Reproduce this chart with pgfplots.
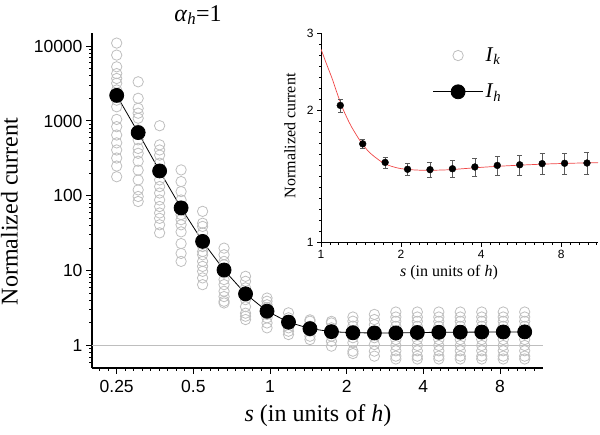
\documentclass[border=0pt]{standalone}
\usepackage{pgfplots}
\pgfplotsset{compat=1.18}
\usepackage{fontspec}
\setmainfont{Liberation Serif}
\newfontfamily\arial{Liberation Sans}
\definecolor{lgray}{RGB}{190,190,190}
\definecolor{ebar}{RGB}{90,90,90}
\definecolor{fitred}{RGB}{240,70,70}
\begin{document}
\begin{tikzpicture}
\useasboundingbox (0,0) rectangle (600pt,434pt);
\begin{axis}[
  at={(92pt,66pt)}, anchor=south west,
  scale only axis, width=451pt, height=335pt,
  xmode=log, ymode=log,
  xmin=0.2, xmax=11.8, ymin=0.5, ymax=15000,
  axis x line*=bottom, axis y line*=left,
  axis line style={-, line width=1.3pt},
  tick align=outside,
  major tick length=6pt, minor tick length=3pt,
  tick style={line width=1pt, black},
  xtick={0.25,0.5,1,2,4,8}, xticklabels={0.25,0.5,1,2,4,8},
  ytick={1,10,100,1000,10000}, yticklabels={1,10,100,1000,10000},
  minor xtick={0.2143,0.2315,0.2700,0.2916,0.3150,0.3402,0.3674,0.3969,0.4286,0.4629,0.5400,0.5833,0.6300,0.6804,0.7349,0.7937,0.8572,0.9259,1.0801,1.1665,1.2599,1.3608,1.4697,1.5874,1.7145,1.8517,2.1601,2.3330,2.5198,2.7216,2.9394,3.1748,3.4290,3.7035,4.3203,4.6661,5.0397,5.4432,5.8788,6.3496,6.8579,7.4070,8.6406,9.3322,10.0794,10.8863},
  minor ytick={0.6,0.7,0.8,0.9,2,3,4,5,6,7,8,9,20,30,40,50,60,70,80,90,200,300,400,500,600,700,800,900,2000,3000,4000,5000,6000,7000,8000,9000},
  ticklabel style={font=\arial\fontsize{17.5}{20}\selectfont},
  xticklabel style={yshift=-3pt},
  xlabel={\textit{s} (in units of \textit{h})},
  ylabel={Normalized current},
  label style={font=\fontsize{24}{28}\selectfont, inner sep=0pt},
  x label style={at={(axis description cs:0.501,-0.143)}, anchor=center},
  y label style={at={(axis description cs:-0.183,0.467)}, anchor=center},
  clip=false,
  legend style={at={(axis description cs:0.755,0.962)}, anchor=north west, draw=none, fill=none,
    font=\fontsize{21}{23}\selectfont, row sep=17pt, inner sep=0pt},
  legend cell align=left,
  legend image code/.code={\draw[#1, mark repeat=2, mark phase=2] plot coordinates {(0pt,0pt) (25pt,0pt) (50pt,0pt)};},
]
\addplot[lgray, forget plot, line width=0.8pt] coordinates {(0.2,1) (11.8,1)};
\addplot[only marks, mark=o, mark size=5.2pt, lgray, mark options={line width=0.8pt}]
table {
x y
0.25 11000
0.25 7600
0.25 5300
0.25 4300
0.25 3700
0.25 3200
0.25 2600
0.25 1900
0.25 1550
0.25 1050
0.25 840
0.25 650
0.25 510
0.25 410
0.25 320
0.25 250
0.25 180
0.3036 3340
0.3036 2010
0.3036 1480
0.3036 1270
0.3036 1090
0.3036 760
0.3036 560
0.3036 430
0.3036 370
0.3036 290
0.3036 220
0.3036 163
0.3036 120
0.3036 98
0.3036 84
0.3686 865
0.3686 480
0.3686 410
0.3686 350
0.3686 273
0.3686 211
0.3686 163
0.3686 133
0.3686 109
0.3686 88
0.3686 72
0.3686 59
0.3686 50
0.3686 41
0.3686 32
0.4476 222
0.4476 155
0.4476 114
0.4476 88
0.4476 65
0.4476 56
0.4476 48
0.4476 41
0.4476 33
0.4476 23
0.4476 17
0.4476 13.3
0.5436 62
0.5436 43
0.5436 39
0.5436 32
0.5436 21
0.5436 18
0.5436 16.3
0.5436 13.3
0.5436 11.4
0.5436 9.8
0.5436 8.0
0.5436 6.5
0.66 20
0.66 16.3
0.66 13.3
0.66 12
0.66 9.3
0.66 7.6
0.66 6.5
0.66 5.3
0.66 4.5
0.66 3.9
0.66 3.7
0.8015 8.4
0.8015 7.2
0.8015 5.9
0.8015 4.5
0.8015 4.1
0.8015 3.3
0.8015 2.7
0.8015 2.46
0.8015 2.22
0.9732 4.3
0.9732 3.9
0.9732 3.5
0.9732 3.2
0.9732 2.6
0.9732 2.34
0.9732 2.0
0.9732 1.72
1.1818 2.73
1.1818 2.34
1.1818 2.11
1.1818 1.9
1.1818 1.72
1.1818 1.55
1.1818 1.40
1.435 2.2
1.435 2.11
1.435 1.81
1.435 1.55
1.435 1.33
1.435 1.20
1.7425 2.1
1.7425 2.0
1.7425 1.72
1.7425 1.33
1.7425 1.14
1.7425 0.98
2.1159 2.4
2.1159 2.11
2.1159 1.81
2.1159 1.27
2.1159 1.09
2.1159 0.84
2.1159 0.78
2.569 2.6
2.569 2.22
2.569 1.9
2.569 1.27
2.569 1.03
2.569 0.84
2.569 0.72
3.120 2.8
3.120 2.4
3.120 2.1
3.120 1.8
3.120 1.2
3.120 1.0
3.120 0.85
3.120 0.72
3.120 0.66
3.789 2.8
3.789 2.4
3.789 2.1
3.789 1.8
3.789 1.2
3.789 1.0
3.789 0.85
3.789 0.72
3.789 0.66
4.601 2.8
4.601 2.4
4.601 2.1
4.601 1.8
4.601 1.2
4.601 1.0
4.601 0.85
4.601 0.72
4.601 0.66
5.586 2.8
5.586 2.4
5.586 2.1
5.586 1.8
5.586 1.2
5.586 1.0
5.586 0.85
5.586 0.72
5.586 0.66
6.783 2.8
6.783 2.4
6.783 2.1
6.783 1.8
6.783 1.2
6.783 1.0
6.783 0.85
6.783 0.72
6.783 0.66
8.237 2.8
8.237 2.4
8.237 2.1
8.237 1.8
8.237 1.2
8.237 1.0
8.237 0.85
8.237 0.72
8.237 0.66
10.0 2.8
10.0 2.4
10.0 2.1
10.0 1.8
10.0 1.2
10.0 1.0
10.0 0.85
10.0 0.72
10.0 0.66
};
\addlegendentry{\textit{I}\textsubscript{\textit{k}}}
\addplot[black, line width=0.8pt, mark=*, mark size=7pt, mark options={fill=black}]
coordinates {
(0.25,2200) (0.3036,700) (0.3686,215) (0.4476,69) (0.5436,24.6) (0.66,10.2)
(0.8015,4.9) (0.9732,2.87) (1.1818,2.05) (1.435,1.68) (1.7425,1.53) (2.1159,1.48)
(2.569,1.47) (3.120,1.47) (3.789,1.49) (4.601,1.50) (5.586,1.505) (6.783,1.51)
(8.237,1.515) (10.0,1.52)
};
\addlegendentry{\textit{I}\textsubscript{\textit{h}}}
\end{axis}

\begin{axis}[
  at={(321pt,191.3pt)}, anchor=south west,
  scale only axis, width=277pt, height=209.4pt,
  xmode=log, ymode=log,
  xmin=1, xmax=11, ymin=1, ymax=3,
  axis x line*=bottom, axis y line*=left,
  axis line style={-, line width=0.8pt},
  tick align=outside,
  major tick length=4pt, minor tick length=2pt,
  tick style={line width=0.7pt, black},
  xtick={1,2,4,8}, xticklabels={1,2,4,8},
  ytick={1,2,3}, yticklabels={1,2,3},
  minor xtick={1.0801,1.1665,1.2599,1.3608,1.4697,1.5874,1.7145,1.8517,2.1601,2.3330,2.5198,2.7216,2.9394,3.1748,3.4290,3.7035,4.3203,4.6661,5.0397,5.4432,5.8788,6.3496,6.8579,7.4070,8.6406,9.3322,10.0794,10.8863},
  minor ytick={1.0595,1.1225,1.1892,1.2599,1.3348,1.4142,1.4983,1.5874,1.6818,1.7818,1.8877,2.119,2.245,2.378,2.520,2.670,2.828},
  ticklabel style={font=\arial\fontsize{12}{14}\selectfont},
  xlabel={\textit{s} (in units of \textit{h})},
  ylabel={Normalized current},
  label style={font=\fontsize{16}{18}\selectfont, inner sep=0pt},
  x label style={at={(axis description cs:0.462,-0.145)}, anchor=center},
  y label style={at={(axis description cs:-0.112,0.51)}, anchor=center},
]
\addplot[fitred, line width=0.7pt, smooth] coordinates {
(1.0,2.76) (1.05,2.55) (1.1,2.37) (1.15,2.19) (1.2,2.04) (1.25,1.93) (1.3,1.84)
(1.4,1.71) (1.5,1.62) (1.6,1.565) (1.7,1.525) (1.8,1.50) (1.9,1.485) (2.0,1.475)
(2.2,1.466) (2.5,1.462) (3.0,1.466) (3.5,1.476) (4.0,1.485) (5.0,1.497) (6.0,1.505)
(7.0,1.511) (8.0,1.515) (9.0,1.518) (10.0,1.52) (11.0,1.522)
};
\addplot[only marks, mark=*, mark size=3.4pt, black,
  error bars/.cd, y dir=both, y explicit,
  error bar style={ebar, line width=0.6pt},
  error mark options={rotate=90, mark size=2.5pt, ebar, line width=0.6pt}]
coordinates {
(1.1818,2.055) +- (0,0.068)
(1.435,1.68) +- (0,0.037)
(1.7425,1.524) +- (0,0.044)
(2.1159,1.47) +- (0,0.049)
(2.569,1.467) +- (0,0.06)
(3.120,1.474) +- (0,0.067)
(3.789,1.488) +- (0,0.07)
(4.601,1.50) +- (0,0.075)
(5.586,1.505) +- (0,0.08)
(6.783,1.514) +- (0,0.082)
(8.237,1.517) +- (0,0.085)
(10.0,1.519) +- (0,0.085)
};
\end{axis}
\node[font=\fontsize{24}{28}\selectfont] at (198pt,419pt) {\textit{α}\textsubscript{\textit{h}}=1};
\end{tikzpicture}
\end{document}
